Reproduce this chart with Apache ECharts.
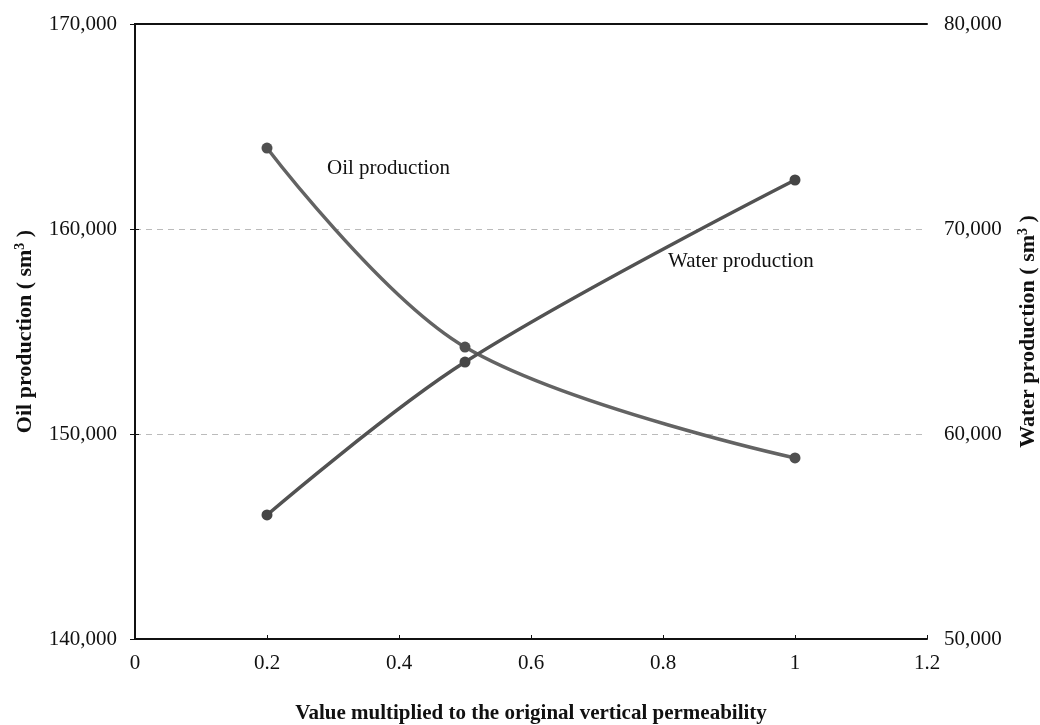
<!DOCTYPE html>
<html><head><meta charset="utf-8">
<script src="https://cdn.jsdelivr.net/npm/echarts@6/dist/echarts.min.js"></script>
<style>html,body{margin:0;padding:0;background:#fff;overflow:hidden;width:1040px;height:725px}#c{width:1040px;height:725px}</style>
</head><body><div id="c"></div>
<script>
const xValues = [0.2, 0.5, 1];
const oilProduction = [163950, 154240, 148830];
const waterProduction = [56050, 63510, 72390];
const xTicks = [0, 0.2, 0.4, 0.6, 0.8, 1, 1.2];
const oilTicks = [140000, 150000, 160000, 170000];
const waterTicks = [50000, 60000, 70000, 80000];

const font = '"Liberation Serif", "DejaVu Serif", serif';
const fmt = v => v.toLocaleString('en-US');
const chart = echarts.init(document.getElementById('c'), null, { width: 1040, height: 725 });
chart.setOption({
  animation: false,
  backgroundColor: '#fff',
  textStyle: { fontFamily: font },
  grid: { left: 135, right: 113, top: 24, bottom: 86, show: false, containLabel: false, outerBoundsMode: 'none' },
  xAxis: [{
    type: 'value', min: xTicks[0], max: xTicks[xTicks.length - 1], interval: 0.2,
    name: 'Value multiplied to the original vertical permeability',
    nameLocation: 'middle', nameGap: 64,
    nameTextStyle: { fontFamily: font, fontWeight: 'bold', fontSize: 21, color: '#111' },
    axisLine: { lineStyle: { color: '#111', width: 2 } },
    axisTick: { show: true, inside: true, length: 4, lineStyle: { color: '#111' } },
    axisLabel: { fontFamily: font, fontSize: 21, color: '#111', margin: 14,
      formatter: v => String(+v.toFixed(1)) },
    splitLine: { show: false }
  }, {
    type: 'value', position: 'top', min: 0, max: 1.2, interval: 0.2,
    axisLine: { show: true, lineStyle: { color: '#111', width: 2 } },
    axisTick: { show: false }, axisLabel: { show: false }, splitLine: { show: false }
  }],
  yAxis: [{
    type: 'value', min: oilTicks[0], max: oilTicks[oilTicks.length - 1], interval: 10000,
    position: 'left',
    name: '{n|Oil production ( sm}{s|3}{n| )}',
    nameLocation: 'middle', nameGap: 98, nameRotate: 90,
    nameTextStyle: { rich: {
      n: { fontFamily: font, fontWeight: 'bold', fontSize: 22, color: '#111' },
      s: { fontFamily: font, fontWeight: 'bold', fontSize: 14, color: '#111', verticalAlign: 'top', padding: [0, 0, 10, 0] }
    } },
    axisLine: { show: true, lineStyle: { color: '#111', width: 2 } },
    axisTick: { show: true, length: 5, lineStyle: { color: '#111' } },
    axisLabel: { fontFamily: font, fontSize: 21, color: '#111', margin: 18, formatter: fmt },
    splitLine: { show: true, lineStyle: { color: '#bbb', type: [6, 5], width: 1 } }
  }, {
    type: 'value', min: waterTicks[0], max: waterTicks[waterTicks.length - 1], interval: 10000,
    position: 'right',
    name: '{n|Water production ( sm}{s|3}{n| )}',
    nameLocation: 'middle', nameGap: 89, nameRotate: 90,
    nameTextStyle: { rich: {
      n: { fontFamily: font, fontWeight: 'bold', fontSize: 22, color: '#111' },
      s: { fontFamily: font, fontWeight: 'bold', fontSize: 14, color: '#111', verticalAlign: 'top', padding: [0, 0, 10, 0] }
    } },
    axisLine: { show: true, lineStyle: { color: '#111', width: 2 } },
    axisTick: { show: true, length: 4, inside: false, lineStyle: { color: '#111' } },
    axisLabel: { fontFamily: font, fontSize: 21, color: '#111', margin: 17, formatter: fmt },
    splitLine: { show: false }
  }],
  series: [{
    name: 'Oil production', type: 'line', yAxisIndex: 0, smooth: 0.35,
    data: xValues.map((x, i) => [x, oilProduction[i]]),
    symbol: 'circle', symbolSize: 11,
    lineStyle: { color: '#636363', width: 3.5 },
    itemStyle: { color: '#505050' }, z: 5
  }, {
    name: 'Water production', type: 'line', yAxisIndex: 1, smooth: 0.35,
    data: xValues.map((x, i) => [x, waterProduction[i]]),
    symbol: 'circle', symbolSize: 11,
    lineStyle: { color: '#525252', width: 3.5 },
    itemStyle: { color: '#454545' }, z: 5
  }],
  graphic: [
    { type: 'text', left: 327, top: 158, style: { text: 'Oil production', font: '21px ' + font, fill: '#111' } },
    { type: 'text', left: 668, top: 251, style: { text: 'Water production', font: '21px ' + font, fill: '#111' } }
  ]
});
</script></body></html>
